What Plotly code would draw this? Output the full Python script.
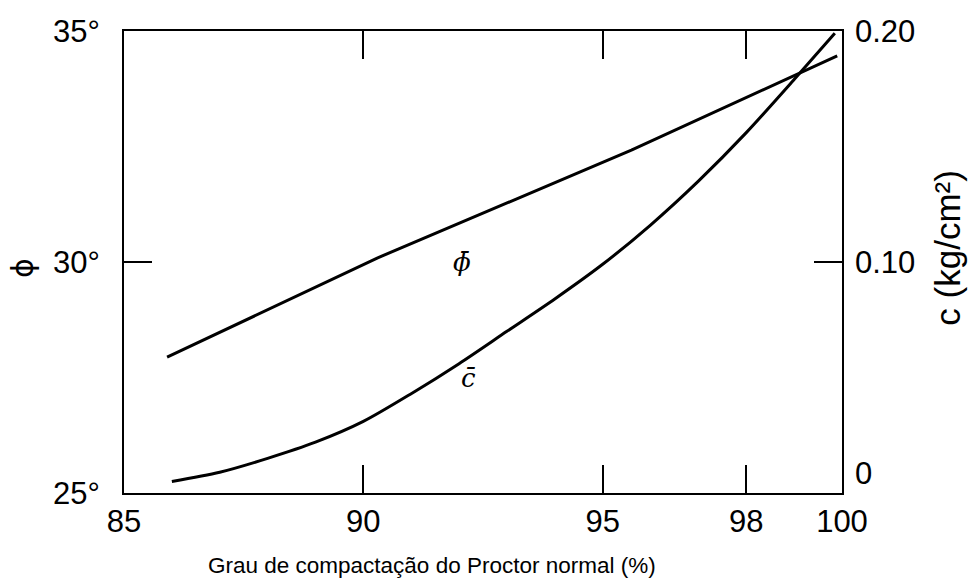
import plotly.graph_objects as go

# Data
phi_x = [85.9, 90.3, 95.6, 98.1, 99.9]
phi_vals = [27.94, 30.09, 32.42, 33.61, 34.46]

c_x = [86.0, 87.0, 88.0, 89.0, 90.0, 91.0, 92.0, 93.0, 94.0, 95.0, 96.0, 97.0, 98.0, 99.0, 99.85]
c_vals = [0.005, 0.009, 0.015, 0.022, 0.031, 0.043, 0.056, 0.070, 0.084, 0.099,
          0.116, 0.135, 0.156, 0.179, 0.199]

x_ticks = [85, 90, 95, 98, 100]
phi_ticks = [25, 30, 35]
phi_ticktext = ["25°", "30°", "35°"]
c_ticks = [0, 0.10, 0.20]
c_ticktext = ["0<br> ", "0.10", "0.20"]

tick_font = dict(family="Liberation Sans, Arial", size=31, color="black")

fig = go.Figure()
fig.add_trace(go.Scatter(x=phi_x, y=phi_vals, mode="lines",
                         line=dict(color="black", width=3), yaxis="y", showlegend=False))
fig.add_trace(go.Scatter(x=c_x, y=c_vals, mode="lines", line_shape="spline",
                         line=dict(color="black", width=3, smoothing=0.8), yaxis="y2", showlegend=False))

fig.update_layout(
    width=974, height=579,
    margin=dict(l=124, r=132, t=31, b=86),
    paper_bgcolor="white", plot_bgcolor="white",
    showlegend=False,
    xaxis=dict(range=[85, 100], tickvals=x_ticks, ticktext=[str(v) for v in x_ticks],
               showgrid=False, zeroline=False, showline=True, linecolor="black", linewidth=2,
               mirror="ticks", ticks="inside", ticklen=28, tickwidth=1.5, tickcolor="black",
               tickfont=tick_font, ticklabelstandoff=0),
    yaxis=dict(range=[25, 35], tickvals=phi_ticks, ticktext=phi_ticktext,
               showgrid=False, zeroline=False, showline=True, linecolor="black", linewidth=2,
               mirror="ticks", ticks="inside", ticklen=28, tickwidth=1.5, tickcolor="black",
               tickfont=tick_font, ticklabelstandoff=16),
    yaxis2=dict(range=[0, 0.20], tickvals=c_ticks, ticktext=c_ticktext, overlaying="y", side="right",
                showgrid=False, zeroline=False, showline=False,
                ticks="inside", ticklen=28, tickwidth=1.5, tickcolor="black",
                tickfont=tick_font, ticklabelstandoff=12),
)

label_font = dict(family="Liberation Sans, Arial", size=22.5, color="black")
fig.add_annotation(text="Grau de compactação do Proctor normal (%)", xref="paper", yref="paper",
                   x=0.429, y=-0.156, showarrow=False, font=label_font,
                   xanchor="center", yanchor="middle")
fig.add_annotation(text="c (kg/cm²)", xref="paper", yref="paper",
                   x=1.147, y=0.53, showarrow=False, textangle=-90,
                   font=dict(family="Liberation Sans, Arial", size=35, color="black"),
                   xanchor="center", yanchor="middle")
fig.add_annotation(text="ϕ", xref="paper", yref="paper",
                   x=-0.142, y=0.487, showarrow=False, textangle=-90,
                   font=dict(family="DejaVu Sans", size=30, color="black"),
                   xanchor="center", yanchor="middle")

curve_font = dict(family="DejaVu Serif", size=26, color="black")
fig.add_annotation(text="<i>ϕ\u0304</i>", x=92.06, y=30.0, xref="x", yref="y",
                   showarrow=False, font=curve_font)
fig.add_annotation(text="<i>c\u0304</i>", x=92.2, y=0.050, xref="x", yref="y2",
                   showarrow=False, font=curve_font)

fig.write_html("out.html", config={"displayModeBar": False},
               post_script="document.body.style.margin='0px';")
